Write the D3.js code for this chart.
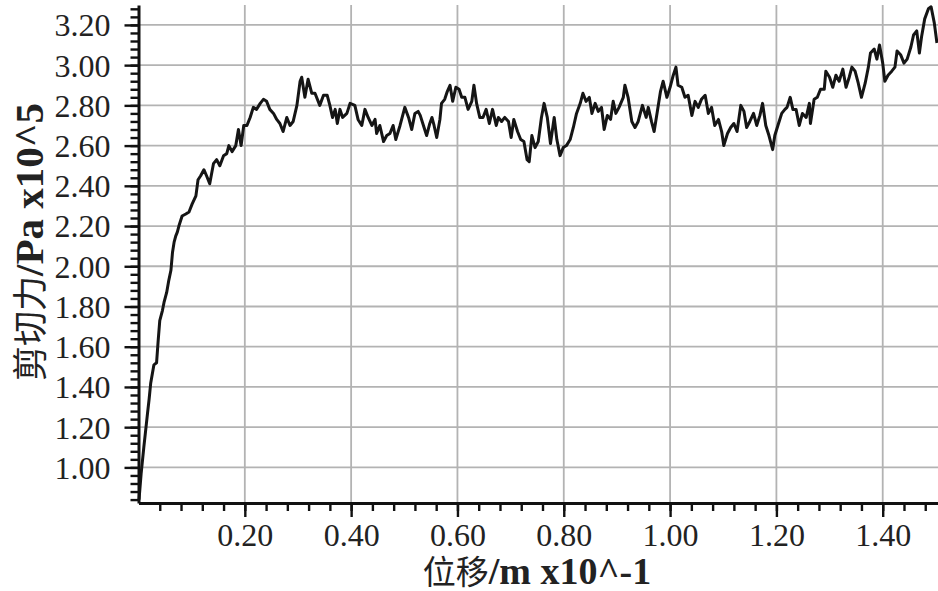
<!DOCTYPE html>
<html><head><meta charset="utf-8">
<script src="https://cdn.jsdelivr.net/npm/d3@7"></script>
<style>body{margin:0;background:#fff}svg{display:block}</style>
</head><body>
<svg id="c" width="938" height="591"></svg>
<script>
// displacement (x10^-1 m)
const displacement = [
0.001,0.005,0.010,0.017,0.020,0.023,0.029,0.034,0.037,0.040,0.045,0.048,0.053,0.057,0.061,0.064,0.067,0.070,0.073,0.076,
0.082,0.089,0.095,0.101,0.108,0.112,0.117,0.123,0.128,0.134,0.141,0.147,0.153,0.160,0.166,0.170,0.176,0.183,0.188,0.193,
0.198,0.204,0.210,0.216,0.222,0.229,0.235,0.241,0.247,0.254,0.260,0.266,0.272,0.279,0.285,0.291,0.298,0.304,0.307,0.313,
0.319,0.326,0.332,0.341,0.348,0.355,0.360,0.365,0.370,0.374,0.379,0.384,0.392,0.398,0.407,0.413,0.420,0.426,0.432,0.439,
0.445,0.448,0.454,0.461,0.467,0.473,0.479,0.484,0.492,0.501,0.508,0.514,0.520,0.526,0.530,0.536,0.542,0.548,0.552,0.556,
0.561,0.567,0.570,0.576,0.581,0.586,0.591,0.597,0.603,0.608,0.614,0.620,0.627,0.631,0.636,0.642,0.648,0.654,0.660,0.666,
0.673,0.677,0.683,0.689,0.696,0.701,0.706,0.713,0.719,0.725,0.731,0.735,0.740,0.746,0.752,0.758,0.763,0.769,0.775,0.782,
0.787,0.793,0.799,0.805,0.812,0.818,0.824,0.831,0.836,0.842,0.848,0.853,0.859,0.865,0.871,0.876,0.882,0.888,0.893,0.898,
0.904,0.912,0.915,0.921,0.928,0.934,0.940,0.948,0.955,0.959,0.965,0.970,0.976,0.982,0.987,0.994,1.000,1.006,1.011,1.015,
1.022,1.028,1.034,1.041,1.047,1.053,1.059,1.066,1.072,1.078,1.084,1.091,1.097,1.101,1.108,1.114,1.120,1.126,1.133,1.139,
1.144,1.150,1.157,1.163,1.169,1.174,1.180,1.186,1.193,1.197,1.204,1.210,1.216,1.220,1.226,1.231,1.237,1.243,1.249,1.256,
1.262,1.264,1.271,1.277,1.283,1.290,1.293,1.300,1.306,1.312,1.318,1.325,1.331,1.337,1.342,1.348,1.354,1.360,1.367,1.373,
1.377,1.384,1.389,1.394,1.400,1.404,1.410,1.417,1.423,1.427,1.434,1.440,1.446,1.453,1.458,1.464,1.469,1.473,1.479,1.486,
1.491,1.497,1.502];
// shear force (Pa x10^5)
const shear = [
0.84,0.97,1.10,1.27,1.34,1.42,1.51,1.52,1.63,1.73,1.78,1.82,1.87,1.93,1.98,2.07,2.12,2.15,2.17,2.20,
2.25,2.26,2.27,2.31,2.35,2.43,2.45,2.48,2.45,2.41,2.51,2.53,2.50,2.55,2.56,2.60,2.57,2.60,2.68,2.60,
2.70,2.70,2.74,2.79,2.78,2.81,2.83,2.82,2.78,2.76,2.73,2.71,2.67,2.74,2.70,2.72,2.80,2.92,2.94,2.84,
2.93,2.86,2.86,2.80,2.85,2.85,2.80,2.74,2.78,2.71,2.78,2.74,2.76,2.81,2.80,2.73,2.70,2.78,2.74,2.70,
2.73,2.66,2.70,2.62,2.65,2.66,2.70,2.63,2.70,2.79,2.74,2.68,2.76,2.77,2.75,2.70,2.65,2.71,2.74,2.70,
2.64,2.73,2.81,2.83,2.87,2.90,2.82,2.89,2.88,2.84,2.84,2.78,2.82,2.90,2.81,2.74,2.74,2.78,2.71,2.78,
2.70,2.74,2.72,2.74,2.72,2.64,2.73,2.67,2.63,2.62,2.53,2.52,2.65,2.59,2.62,2.74,2.81,2.74,2.61,2.74,
2.63,2.55,2.59,2.60,2.63,2.69,2.76,2.81,2.86,2.82,2.84,2.76,2.81,2.77,2.79,2.68,2.75,2.73,2.82,2.76,
2.79,2.84,2.90,2.84,2.72,2.69,2.72,2.80,2.74,2.79,2.72,2.67,2.77,2.87,2.92,2.84,2.89,2.95,2.99,2.90,
2.89,2.84,2.85,2.75,2.82,2.79,2.83,2.85,2.76,2.79,2.70,2.73,2.67,2.60,2.66,2.69,2.71,2.67,2.80,2.77,
2.69,2.72,2.76,2.70,2.75,2.81,2.70,2.65,2.58,2.65,2.71,2.76,2.78,2.79,2.84,2.78,2.78,2.70,2.76,2.74,
2.81,2.71,2.83,2.84,2.88,2.88,2.97,2.94,2.89,2.95,2.92,2.98,2.89,2.94,2.99,2.97,2.91,2.84,2.91,2.99,
3.06,3.08,3.03,3.10,3.01,2.92,2.95,2.97,2.99,3.07,3.05,3.01,3.03,3.09,3.15,3.17,3.06,3.14,3.23,3.28,
3.29,3.21,3.11];
const xMajorTicks = [0.2,0.4,0.6,0.8,1.0,1.2,1.4];
const yMajorTicks = [1.0,1.2,1.4,1.6,1.8,2.0,2.2,2.4,2.6,2.8,3.0,3.2];
const xMinorTicks = d3.range(1,38).map(i => +(i*0.04).toFixed(2));
const yMinorTicks = d3.range(21,83).map(i => +(i*0.04).toFixed(2));
const xTitle = ["位移", "/m x10^-1"];
const yTitle = ["剪切力", "/Pa x10^5"];

const svg = d3.select("#c");
const x = d3.scaleLinear().domain([0, 1.504]).range([138.5, 938]);
const y = d3.scaleLinear().domain([0.823, 3.299]).range([503, 5]);
const [x0, x1] = x.range();
const [y0, y1] = y.range();

const serif = "'Liberation Serif','Times New Roman',serif";
const cjk = "'Noto Sans CJK SC','Noto Sans CJK JP',sans-serif";

// grid
const grid = svg.append("g").attr("stroke", "#b3b3b3").attr("stroke-width", 1.8);
grid.selectAll(".gh").data(yMajorTicks).join("line")
  .attr("x1", x0).attr("x2", x1).attr("y1", d => y(d)).attr("y2", d => y(d));
grid.selectAll(".gv").data(xMajorTicks).join("line")
  .attr("y1", y0).attr("y2", y1).attr("x1", d => x(d)).attr("x2", d => x(d));

// curve
const pts = displacement.map((d, i) => [d, shear[i]]);
svg.append("path").datum(pts)
  .attr("fill", "none").attr("stroke", "#151515").attr("stroke-width", 3)
  .attr("stroke-linejoin", "round")
  .attr("d", d3.line().x(d => x(d[0])).y(d => y(d[1])));

// axes
function styleAxis(g) {
  g.selectAll("path.domain").attr("stroke", "#111").attr("stroke-width", 3);
  g.selectAll(".tick line").attr("stroke", "#111").attr("stroke-width", 2.4);
  g.selectAll("text").attr("fill", "#222").style("font-family", serif).style("font-size", "32px");
}
const yMinorAx = svg.append("g").attr("transform", `translate(${x0},0)`)
  .call(d3.axisLeft(y).tickValues(yMinorTicks).tickSize(8).tickSizeOuter(0).tickFormat(""));
yMinorAx.select(".domain").remove();
styleAxis(yMinorAx);
const yAx = svg.append("g").attr("transform", `translate(${x0},0)`)
  .call(d3.axisLeft(y).tickValues(yMajorTicks).tickSize(14).tickSizeOuter(0).tickPadding(14)
    .tickFormat(d3.format(".2f")));
styleAxis(yAx);
yAx.selectAll("text").attr("dy", "0.34em");

const xMinorAx = svg.append("g").attr("transform", `translate(0,${y0})`)
  .call(d3.axisBottom(x).tickValues(xMinorTicks).tickSize(8).tickSizeOuter(0).tickFormat(""));
xMinorAx.select(".domain").remove();
styleAxis(xMinorAx);
const xAx = svg.append("g").attr("transform", `translate(0,${y0})`)
  .call(d3.axisBottom(x).tickValues(xMajorTicks).tickSize(14).tickSizeOuter(0).tickPadding(6)
    .tickFormat(d3.format(".2f")));
styleAxis(xAx);

// titles
const xt = svg.append("text").attr("x", 537).attr("y", 584).attr("text-anchor", "middle")
  .attr("fill", "#222");
xt.append("tspan").style("font-family", cjk).style("font-size", "33px").text(xTitle[0]);
xt.append("tspan").style("font-family", serif).style("font-weight", "bold").style("font-size", "38px").text(xTitle[1]);

const yt = svg.append("text").attr("transform", "translate(43,242) rotate(-90)")
  .attr("text-anchor", "middle").attr("fill", "#222");
yt.append("tspan").style("font-family", cjk).style("font-size", "35px").text(yTitle[0]);
yt.append("tspan").style("font-family", serif).style("font-weight", "bold").style("font-size", "41px").text(yTitle[1]);
</script>
</body></html>
